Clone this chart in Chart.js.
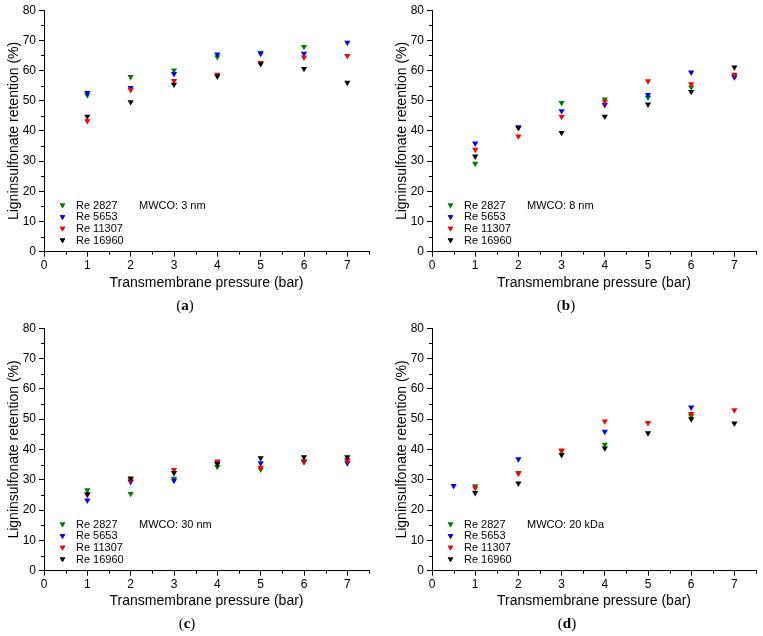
<!DOCTYPE html>
<html>
<head>
<meta charset="utf-8">
<script src="https://cdn.jsdelivr.net/npm/chart.js@4.4.1/dist/chart.umd.min.js"></script>
<style>
  html, body { margin: 0; padding: 0; background: #fff; }
  #wrap { position: relative; width: 763px; height: 636px; overflow: hidden; }
  .pc { position: absolute; }
</style>
</head>
<body>
<div id="wrap">
  <div class="pc" style="left:0px;top:0px;width:381px;height:318px"><canvas id="ca"></canvas></div>
  <div class="pc" style="left:388px;top:0px;width:375px;height:318px"><canvas id="cb"></canvas></div>
  <div class="pc" style="left:0px;top:318px;width:381px;height:318px"><canvas id="cc"></canvas></div>
  <div class="pc" style="left:388px;top:318px;width:375px;height:318px"><canvas id="cd"></canvas></div>
</div>
<script>
// ---------- data ----------
const seriesNames = ['Re 2827', 'Re 5653', 'Re 11307', 'Re 16960'];
const seriesColors = ['#008000', '#0000ff', '#ff0000', '#000000'];
const xTickValues = [0, 1, 2, 3, 4, 5, 6, 7];
const yTickValues = [0, 10, 20, 30, 40, 50, 60, 70, 80];
const xMinorTicks = [0.5, 1.5, 2.5, 3.5, 4.5, 5.5, 6.5, 7.5];
const yMinorTicks = [5, 15, 25, 35, 45, 55, 65, 75];

const pressures = [1, 2, 3, 4, 5, 6, 7];
const pressuresD = [0.5, 1, 2, 3, 4, 5, 6, 7];

// (a) MWCO: 3 nm
const a_re2827  = [51.9, 57.9, 60.1, 64.5, 66.0, 67.9, null];
const a_re5653  = [52.6, 54.3, 58.9, 65.4, 65.6, 65.6, 69.3];
const a_re11307 = [43.3, 53.6, 56.6, 58.7, 62.6, 64.4, 64.9];
const a_re16960 = [44.8, 49.6, 55.4, 58.1, 62.2, 60.6, 56.0];

// (b) MWCO: 8 nm
const b_re2827  = [29.2, null, 49.3, 50.5, 51.1, 54.5, 58.3];
const b_re5653  = [35.9, 41.3, 46.6, 48.7, 52.0, 59.4, 57.8];
const b_re11307 = [33.8, 38.2, 44.7, 49.7, 56.5, 55.5, 58.7];
const b_re16960 = [31.6, 41.0, 39.4, 44.8, 48.8, 53.0, 61.1];

// (c) MWCO: 30 nm
const c_re2827  = [26.6, 25.4, 30.4, 34.3, 33.4, 36.0, 36.5];
const c_re5653  = [23.2, 29.3, 29.7, 35.5, 35.5, 36.0, 35.5];
const c_re11307 = [25.0, 29.8, 33.3, 36.1, 34.0, 36.1, 36.3];
const c_re16960 = [25.3, 30.5, 32.3, 35.2, 37.2, 37.5, 37.5];

// (d) MWCO: 20 kDa  (x = pressuresD)
const d_re2827  = [null, 27.9, 32.3, 39.5, 41.6, null, 51.1, null];
const d_re5653  = [28.0, null, 36.8, null, 45.9, null, 53.9, null];
const d_re11307 = [null, 27.3, 32.1, 39.7, 49.3, 48.8, 51.8, 53.0];
const d_re16960 = [null, 25.7, 28.8, 38.2, 40.4, 45.4, 50.0, 48.6];

const panels = [
  { id: 'ca', xs: pressures,  series: [a_re2827, a_re5653, a_re11307, a_re16960], note: 'MWCO: 3 nm',  letter: 'a', padTop: 8.3, padRight: 12, xH: 66.3, labelX: 185 },
  { id: 'cb', xs: pressures,  series: [b_re2827, b_re5653, b_re11307, b_re16960], note: 'MWCO: 8 nm',  letter: 'b', padTop: 8.3, padRight: 7,  xH: 66.3, labelX: 178 },
  { id: 'cc', xs: pressures,  series: [c_re2827, c_re5653, c_re11307, c_re16960], note: 'MWCO: 30 nm', letter: 'c', padTop: 9.3, padRight: 12, xH: 65.3, labelX: 187 },
  { id: 'cd', xs: pressuresD, series: [d_re2827, d_re5653, d_re11307, d_re16960], note: 'MWCO: 20 kDa', letter: 'd', padTop: 9.3, padRight: 7,  xH: 65.3, labelX: 179 }
];

const FONT = '"Liberation Sans", Arial, sans-serif';

function drawTri(ctx, x, y, r, color) {
  Chart.helpers.drawPoint(ctx, { pointStyle: 'triangle', rotation: 180, radius: r, borderWidth: 0 }, x, y);
  ctx.fill();
}

const extrasPlugin = {
  id: 'extras',
  afterDraw(chart, args, opts) {
    const ctx = chart.ctx;
    const area = chart.chartArea;
    const xs = chart.scales.x, ys = chart.scales.y;
    ctx.save();
    // minor ticks
    ctx.strokeStyle = '#000';
    ctx.lineWidth = 1;
    ctx.beginPath();
    xMinorTicks.forEach(v => {
      const px = Math.round(xs.getPixelForValue(v)) + 0.5;
      ctx.moveTo(px, area.bottom); ctx.lineTo(px, area.bottom + 3);
    });
    yMinorTicks.forEach(v => {
      const py = Math.round(ys.getPixelForValue(v)) + 0.5;
      ctx.moveTo(area.left, py); ctx.lineTo(area.left - 3, py);
    });
    ctx.stroke();
    // legend
    ctx.font = '11px ' + FONT;
    ctx.textBaseline = 'middle';
    ctx.textAlign = 'left';
    seriesNames.forEach((name, i) => {
      const y = area.bottom - 46.5 + i * 11.6;
      ctx.fillStyle = seriesColors[i];
      drawTri(ctx, area.left + 18.5, y, 3.2, seriesColors[i]);
      ctx.fillStyle = '#000';
      ctx.fillText(name, area.left + 32, y + 0.5);
    });
    ctx.fillText(opts.note, area.left + 95, area.bottom - 46);
    // panel label
    ctx.textAlign = 'center';
    ctx.textBaseline = 'alphabetic';
    const cx = opts.labelX, cy = 310;
    ctx.font = '15px "Liberation Serif", "Times New Roman", serif';
    const wOpen = ctx.measureText('(').width;
    ctx.font = 'bold 15px "Liberation Serif", "Times New Roman", serif';
    const wL = ctx.measureText(opts.letter).width;
    ctx.font = '15px "Liberation Serif", "Times New Roman", serif';
    const wClose = ctx.measureText(')').width;
    const total = wOpen + wL + wClose;
    let sx = cx - total / 2;
    ctx.textAlign = 'left';
    ctx.fillText('(', sx, cy);
    ctx.font = 'bold 15px "Liberation Serif", "Times New Roman", serif';
    ctx.fillText(opts.letter, sx + wOpen, cy);
    ctx.font = '15px "Liberation Serif", "Times New Roman", serif';
    ctx.fillText(')', sx + wOpen + wL, cy);
    ctx.restore();
  }
};

panels.forEach(p => {
  const datasets = p.series.map((vals, i) => ({
    label: seriesNames[i],
    data: p.xs.map((x, j) => ({ x: x, y: vals[j] })).filter(d => d.y !== null),
    pointStyle: 'triangle',
    rotation: 180,
    pointRadius: 3.6,
    pointBorderWidth: 0,
    backgroundColor: seriesColors[i],
    borderColor: seriesColors[i],
    showLine: false,
    order: 3 - i
  }));
  new Chart(document.getElementById(p.id), {
    type: 'scatter',
    data: { datasets },
    plugins: [extrasPlugin],
    options: {
      responsive: true,
      maintainAspectRatio: false,
      animation: false,
      events: [],
      layout: { padding: { left: 0, right: p.padRight, top: p.padTop, bottom: 0 } },
      plugins: {
        legend: { display: false },
        tooltip: { enabled: false },
        extras: { note: p.note, letter: p.letter, labelX: p.labelX }
      },
      scales: {
        x: {
          type: 'linear',
          min: 0, max: 7.5,
          afterBuildTicks: s => { s.ticks = xTickValues.map(v => ({ value: v })); },
          afterFit: s => { s.height = p.xH; },
          grid: { display: true, drawOnChartArea: false, drawTicks: true, tickLength: 5, color: '#000', lineWidth: 1 },
          border: { display: true, color: '#000', width: 1 },
          ticks: { color: '#000', font: { family: FONT, size: 12 }, padding: 2, maxRotation: 0, autoSkip: false },
          title: { display: true, text: 'Transmembrane pressure (bar)', color: '#000', font: { family: FONT, size: 14 }, padding: { top: 0, bottom: 26.6 } }
        },
        y: {
          type: 'linear',
          min: 0, max: 80,
          afterBuildTicks: s => { s.ticks = yTickValues.map(v => ({ value: v })); },
          afterFit: s => { s.width = 44; },
          grid: { display: true, drawOnChartArea: false, drawTicks: true, tickLength: 5, color: '#000', lineWidth: 1 },
          border: { display: true, color: '#000', width: 1 },
          ticks: { color: '#000', font: { family: FONT, size: 12 }, padding: 3, autoSkip: false },
          title: { display: true, text: 'Ligninsulfonate retention (%)', color: '#000', font: { family: FONT, size: 14 }, padding: { top: 6, bottom: 0 } }
        }
      }
    }
  });
});
</script>
</body>
</html>
